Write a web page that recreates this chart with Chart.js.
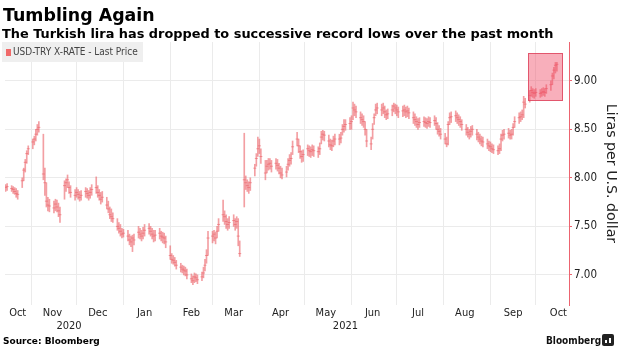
<!DOCTYPE html>
<html>
<head>
<meta charset="utf-8">
<script src="https://cdn.jsdelivr.net/npm/chart.js@4.4.1/dist/chart.umd.min.js"></script>
<style>
  html, body { margin:0; padding:0; background:#fff; }
  #wrap { position:relative; width:620px; height:348px; overflow:hidden; }
  #c { position:absolute; left:0; top:0; }
  .t { position:absolute; white-space:nowrap; line-height:1; color:#000; }
  #title { left:3px; top:5px; font:bold 17.4px "DejaVu Sans"; }
  #subtitle { left:2px; top:26px; font:bold 12.9px "DejaVu Sans"; }
  #legend { position:absolute; left:2px; top:42px; width:141px; height:20px; background:#efefef; }
  #legend .sw { position:absolute; left:4px; top:7px; width:5px; height:7px; background:#f06a6a; }
  #legend .lt { position:absolute; left:11px; top:5px; font:10px "DejaVu Sans Condensed"; color:#444; line-height:1; white-space:nowrap; }
  #source { left:3px; top:336px; font:bold 9px "DejaVu Sans"; }
  #brand { left:546px; top:335px; font:bold 10px "DejaVu Sans Condensed"; color:#111; }
  #logo { position:absolute; left:602px; top:334px; width:12px; height:12px; background:#222; border-radius:2px; }
  #logo i { position:absolute; bottom:3px; width:2px; background:#fff; }
</style>
</head>
<body>
<div id="wrap">
  <canvas id="c" width="620" height="348"></canvas>
  <div class="t" id="title">Tumbling Again</div>
  <div class="t" id="subtitle">The Turkish lira has dropped to successive record lows over the past month</div>
  <div id="legend"><div class="sw"></div><div class="lt">USD-TRY X-RATE - Last Price</div></div>
  <div class="t" id="source">Source: Bloomberg</div>
  <div class="t" id="brand">Bloomberg</div>
  <div id="logo"><i style="left:3px;height:3px"></i><i style="left:7px;height:5px"></i></div>
</div>
<script>
// ---- data: one value per trading day (weekdays), starting 2020-10-15 ----
const startDate = '2020-10-15';

const lows = [
  7.86,7.87,7.86,7.84,7.83,7.80,7.78,7.90,7.97,8.06,8.15,8.24,
  8.30,8.34,8.38,8.44,8.47, 7.98,7.82,7.70,7.66,7.65, 7.64,7.66,7.65,7.60,7.54, 7.78,7.86,7.90,7.84,7.80, 7.77,
  7.80,7.78,7.76,7.77, 7.80,7.79,7.77,7.79,7.82, 7.84,7.80,7.77,7.73,7.75, 7.68,7.64,7.58,7.55,7.54, 7.46,7.43,7.40,7.38,
  7.39, 7.35,7.31,7.29,7.24,7.31, 7.38,7.37,7.35,7.37,7.40, 7.42,7.40,7.37,7.34,7.35, 7.37,7.35,7.33,7.32,7.28,
  7.16,7.12,7.11,7.09,7.06, 7.03,7.02,7.00,6.99,6.96, 6.92,6.90,6.92,6.93,6.91, 6.94,6.97,7.04,7.12,7.20,
  7.33,7.35,7.32,7.38,7.45, 7.55,7.52,7.48,7.46,7.48, 7.50,7.46,7.48,7.30,7.19, 7.70,7.88,7.86,7.84,7.87, 8.02,8.12,8.22,
  8.25,8.15, 7.98,8.05,8.08,8.09,8.06, 8.09,8.07,8.04,8.00,7.99, 8.01,8.08,8.12,8.14,8.24, 8.33,8.26,8.20,8.16,8.17,
  8.23,8.22,8.21,8.23,8.22, 8.21,8.24,8.35,8.39,8.38, 8.32,8.29,8.28,8.32,8.34, 8.34,8.36,8.44,8.47,8.49, 8.50,
  8.50,8.60,8.64,8.62, 8.56,8.54,8.52,8.44,8.32, 8.29,8.40,8.55,8.64,8.66, 8.64,8.66,8.62,8.60,8.61, 8.64,8.68,8.66,
  8.64,8.62, 8.63,8.64,8.62,8.63,8.61, 8.56,8.54,8.52,8.50,8.52, 8.53,8.52,8.51,8.53,8.52, 8.54,8.50,8.45,8.43,8.40,
  8.35,8.32,8.34,8.55,8.57, 8.58,8.56,8.54,8.52,8.49, 8.44,8.42,8.40,8.42,8.44, 8.39,8.37,8.35,8.33,8.32, 8.30,8.28,
  8.27,8.26,8.25, 8.24,8.25,8.28,8.38,8.40, 8.41,8.40,8.40,8.44,8.52, 8.56,8.58,8.60,8.62,8.72, 8.78,8.84,8.83,8.82,
  8.84, 8.83,8.84,8.85,8.84,8.87, 8.90,8.96,9.02,9.08,9.10
];

const highs = [
  7.93,7.94,7.92,7.91,7.90,7.89,7.87,8.00,8.10,8.19,8.28,8.33,
  8.40,8.43,8.50,8.55,8.58, 8.45,8.10,7.95,7.80,7.78, 7.76,7.78,7.77,7.74,7.70, 7.97,7.99,8.03,7.96,7.92, 7.88,
  7.90,7.88,7.86,7.87, 7.90,7.89,7.87,7.90,7.93, 8.01,7.92,7.88,7.85,7.86, 7.80,7.76,7.70,7.68,7.64, 7.58,7.54,7.52,7.48,
  7.47, 7.46,7.42,7.40,7.41,7.42, 7.50,7.48,7.46,7.49,7.52, 7.53,7.50,7.48,7.46,7.46, 7.48,7.45,7.44,7.43,7.40,
  7.30,7.22,7.20,7.18,7.15, 7.12,7.10,7.09,7.08,7.06, 7.01,6.99,7.02,7.01,7.00, 7.03,7.08,7.16,7.26,7.45,
  7.45,7.46,7.44,7.50,7.58, 7.77,7.66,7.62,7.58,7.60, 7.62,7.58,7.60,7.58,7.35, 8.46,8.02,7.98,7.96,8.00, 8.14,8.25,8.42,
  8.40,8.30, 8.18,8.18,8.20,8.20,8.18, 8.20,8.19,8.15,8.12,8.10, 8.12,8.20,8.24,8.26,8.38, 8.47,8.40,8.33,8.28,8.29,
  8.34,8.33,8.32,8.34,8.33, 8.32,8.36,8.48,8.49,8.48, 8.44,8.40,8.39,8.43,8.45, 8.45,8.47,8.55,8.60,8.60, 8.62,
  8.64,8.78,8.76,8.74, 8.68,8.66,8.64,8.58,8.50, 8.42,8.56,8.66,8.76,8.77, 8.76,8.77,8.74,8.70,8.71, 8.75,8.77,8.76,
  8.75,8.73, 8.74,8.75,8.73,8.74,8.72, 8.68,8.66,8.63,8.61,8.62, 8.63,8.62,8.61,8.63,8.62, 8.64,8.62,8.57,8.54,8.51,
  8.46,8.42,8.58,8.67,8.68, 8.69,8.67,8.65,8.63,8.60, 8.55,8.52,8.50,8.53,8.54, 8.50,8.47,8.45,8.43,8.42, 8.40,8.38,
  8.37,8.35,8.34, 8.33,8.35,8.45,8.49,8.50, 8.51,8.49,8.50,8.56,8.63, 8.67,8.68,8.70,8.84,8.82, 8.90,8.94,8.92,8.91,
  8.92, 8.91,8.92,8.93,8.92,8.96, 9.00,9.08,9.14,9.19,9.19
];

const closes = [
  7.90,7.91,7.89,7.88,7.86,7.84,7.83,7.97,8.08,8.16,8.25,8.30,
  8.37,8.40,8.45,8.50,8.52, 8.04,7.95,7.76,7.72,7.71, 7.69,7.73,7.70,7.66,7.62, 7.92,7.95,7.98,7.90,7.85, 7.82,
  7.85,7.83,7.80,7.82, 7.86,7.84,7.82,7.85,7.88, 7.90,7.85,7.82,7.78,7.80, 7.72,7.68,7.62,7.60,7.58, 7.50,7.48,7.45,7.42,
  7.43, 7.40,7.36,7.34,7.38,7.36, 7.44,7.42,7.40,7.43,7.46, 7.48,7.45,7.42,7.40,7.41, 7.43,7.40,7.39,7.38,7.34,
  7.20,7.16,7.15,7.13,7.10, 7.08,7.06,7.05,7.04,7.00, 6.96,6.94,6.98,6.97,6.95, 6.98,7.02,7.10,7.20,7.38,
  7.40,7.42,7.38,7.45,7.52, 7.62,7.60,7.55,7.52,7.54, 7.56,7.52,7.55,7.40,7.22, 7.98,7.95,7.92,7.90,7.95, 8.10,8.20,8.30,
  8.33,8.22, 8.05,8.12,8.14,8.15,8.12, 8.15,8.13,8.10,8.05,8.03, 8.06,8.14,8.18,8.20,8.32, 8.40,8.33,8.27,8.22,8.24,
  8.30,8.28,8.27,8.29,8.28, 8.27,8.30,8.42,8.45,8.44, 8.38,8.34,8.33,8.38,8.40, 8.40,8.41,8.50,8.53,8.55, 8.56,
  8.58,8.72,8.70,8.68, 8.62,8.60,8.58,8.50,8.38, 8.35,8.50,8.62,8.70,8.72, 8.70,8.72,8.68,8.65,8.66, 8.70,8.74,8.72,
  8.70,8.68, 8.69,8.70,8.68,8.69,8.67, 8.62,8.60,8.58,8.55,8.57, 8.58,8.57,8.56,8.58,8.57, 8.59,8.56,8.50,8.48,8.45,
  8.40,8.35,8.55,8.62,8.63, 8.64,8.62,8.60,8.58,8.55, 8.50,8.47,8.45,8.48,8.50, 8.45,8.42,8.40,8.38,8.37, 8.35,8.33,
  8.32,8.30,8.29, 8.28,8.30,8.40,8.44,8.45, 8.46,8.44,8.45,8.52,8.58, 8.62,8.63,8.65,8.78,8.76, 8.85,8.90,8.88,8.87,
  8.88, 8.87,8.88,8.89,8.88,8.92, 8.96,9.05,9.11,9.16,9.17
];

const monthStarts = ['2020-11-01','2020-12-01','2021-01-01','2021-02-01','2021-03-01','2021-04-01',
                     '2021-05-01','2021-06-01','2021-07-01','2021-08-01','2021-09-01','2021-10-01'];
const monthLabels = ['Oct','Nov','Dec','Jan','Feb','Mar','Apr','May','Jun','Jul','Aug','Sep','Oct'];
const monthLabelDates = ['2020-10-23','2020-11-15','2020-12-15','2021-01-15','2021-02-15','2021-03-15','2021-04-15',
                         '2021-05-15','2021-06-15','2021-07-15','2021-08-15','2021-09-16','2021-10-16'];
const yearLabels = ['2020','2021'];
const yearLabelDates = ['2020-11-26','2021-05-28'];
const yTicks = [7.0, 7.5, 8.0, 8.5, 9.0];
const yRange = [6.69, 9.40];
const xRange = ['2020-10-15','2021-10-23'];
const highlightDates = ['2021-09-26','2021-10-19'];
const highlightRange = [8.79, 9.29];

// ---- helpers ----
const DAY = 86400000;
const BASE = Date.UTC(2020, 10, 1);
function dayNum(s){ const [y,m,d] = s.split('-').map(Number); return (Date.UTC(y, m-1, d) - BASE) / DAY; }
const tradeDays = [];
for (let t = dayNum(startDate); tradeDays.length < closes.length; t++) {
  const dow = new Date(BASE + t*DAY).getUTCDay();
  if (dow !== 0 && dow !== 6) tradeDays.push(t);
}

const RED = 'rgba(236,100,106,0.62)';
const AXISRED = '#ec6470';
const GRID = '#ebebeb';
const FAM = '"DejaVu Sans Condensed", "DejaVu Sans", sans-serif';
const xMin = dayNum(xRange[0]) - 0.4, xMax = dayNum(xRange[1]);

function fixTicks(list){ return axis => { axis.ticks = list.map(v => ({ value: v })); }; }

const highlightPlugin = {
  id: 'highlight',
  afterDatasetsDraw(chart){
    const { ctx, scales: { x, y } } = chart;
    const x0 = Math.round(x.getPixelForValue(dayNum(highlightDates[0])));
    const x1 = Math.round(x.getPixelForValue(dayNum(highlightDates[1])));
    const y0 = Math.round(y.getPixelForValue(highlightRange[1]));
    const y1 = Math.round(y.getPixelForValue(highlightRange[0]));
    ctx.save();
    ctx.fillStyle = 'rgba(240,78,104,0.45)';
    ctx.fillRect(x0, y0, x1 - x0, y1 - y0);
    ctx.strokeStyle = 'rgba(222,70,95,0.85)';
    ctx.lineWidth = 1;
    ctx.strokeRect(x0 + 0.5, y0 + 0.5, x1 - x0 - 1, y1 - y0 - 1);
    ctx.restore();
  }
};

new Chart(document.getElementById('c'), {
  type: 'bar',
  data: {
    datasets: [
      {
        type: 'bar',
        label: 'USD-TRY X-RATE - Last Price',
        data: tradeDays.map((d, i) => ({ x: d, y: [lows[i], highs[i]] })),
        backgroundColor: RED,
        borderWidth: 0,
        barThickness: 1,
        xAxisID: 'x', yAxisID: 'y'
      },
      {
        type: 'scatter',
        label: 'close',
        data: tradeDays.map((d, i) => ({ x: d, y: closes[i] })),
        pointStyle: 'line',
        pointRadius: 1.5,
        borderColor: RED,
        borderWidth: 1,
        showLine: false,
        xAxisID: 'x', yAxisID: 'y'
      }
    ]
  },
  options: {
    responsive: false,
    devicePixelRatio: 1,
    animation: false,
    events: [],
    layout: { padding: { top: 42, left: 0, right: 0, bottom: 16 } },
    plugins: { legend: { display: false }, tooltip: { enabled: false }, title: { display: false } },
    scales: {
      x: {
        type: 'linear', position: 'bottom', weight: 0, min: xMin, max: xMax, offset: false,
        grid: { color: GRID, drawTicks: false, offset: false },
        border: { display: false },
        ticks: { display: false, autoSkip: false },
        afterBuildTicks: fixTicks(monthStarts.map(dayNum)),
        afterFit: a => { a.height = 0; a.paddingLeft = 0; a.paddingRight = 0; }
      },
      xm: {
        type: 'linear', position: 'bottom', weight: 1, min: xMin, max: xMax, offset: false,
        grid: { display: false, drawTicks: false, offset: false },
        border: { display: false },
        ticks: { autoSkip: false, maxRotation: 0, padding: 2, color: '#222',
                 font: { family: FAM, size: 11 }, callback: (v, i) => monthLabels[i] },
        afterBuildTicks: fixTicks(monthLabelDates.map(dayNum)),
        afterFit: a => { a.height = 14; a.paddingLeft = 0; a.paddingRight = 0; }
      },
      xy: {
        type: 'linear', position: 'bottom', weight: 2, min: xMin, max: xMax, offset: false,
        grid: { display: false, drawTicks: false, offset: false },
        border: { display: false },
        ticks: { autoSkip: false, maxRotation: 0, padding: 1, color: '#222',
                 font: { family: FAM, size: 11 }, callback: (v, i) => yearLabels[i] },
        afterBuildTicks: fixTicks(yearLabelDates.map(dayNum)),
        afterFit: a => { a.height = 13; a.paddingLeft = 0; a.paddingRight = 0; }
      },
      y: {
        type: 'linear', position: 'right', min: yRange[0], max: yRange[1],
        grid: { color: GRID, drawTicks: true, tickLength: 3, tickColor: AXISRED },
        border: { display: true, color: AXISRED, width: 1 },
        ticks: { padding: 2, color: '#222', font: { family: FAM, size: 11.5 },
                 callback: v => Number(v).toFixed(2) },
        title: { display: true, text: 'Liras per U.S. dollar', color: '#222',
                 font: { family: '"DejaVu Sans", sans-serif', size: 14.2 }, padding: { top: 1, bottom: 0 } },
        afterBuildTicks: fixTicks(yTicks),
        afterFit: a => { a.width = 51; }
      }
    }
  },
  plugins: [highlightPlugin]
});
</script>
</body>
</html>
